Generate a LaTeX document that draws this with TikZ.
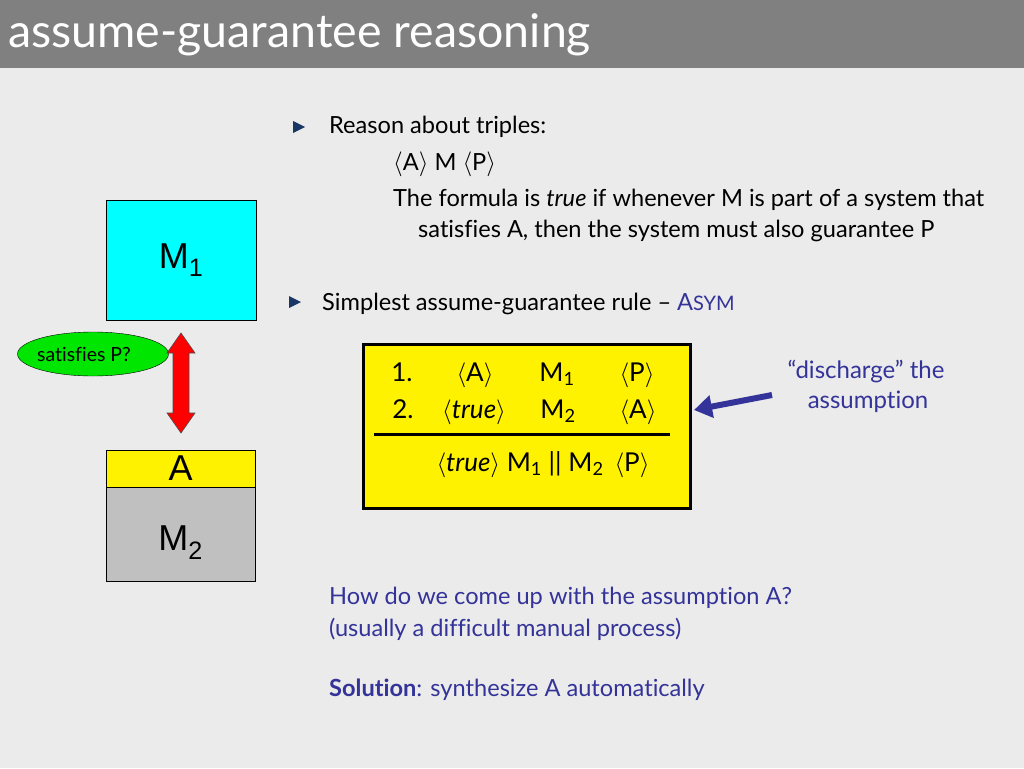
\documentclass[tikz,border=0pt]{standalone}
\usepackage{fontspec}
\setmainfont{Lato}[Ligatures=NoCommon]
\newfontfamily\arialf{Liberation Sans}
\usetikzlibrary{arrows.meta,shapes.geometric}
\definecolor{bg}{RGB}{235,235,235}
\definecolor{titlebar}{RGB}{128,128,128}
\definecolor{navy}{RGB}{51,51,153}
\definecolor{bullet}{RGB}{25,55,100}
\definecolor{cyanbox}{RGB}{0,255,255}
\definecolor{graybox}{RGB}{192,192,192}
\definecolor{greenell}{RGB}{0,230,0}
\begin{document}
\begin{tikzpicture}[x=1pt,y=-1pt,
  txt/.style={anchor=base west,inner sep=0pt,font=\fontsize{23.6}{28}\selectfont},
  bluetxt/.style={txt,text=navy},
  rulet/.style={anchor=base,inner sep=0pt,font=\fontsize{26}{30}\selectfont},
  bigsans/.style={font=\arialf\fontsize{36}{40}\selectfont},
  bul/.style={fill=bullet}
]
\useasboundingbox (0,0) rectangle (1024,768);
\fill[bg] (0,0) rectangle (1024,768);
\fill[titlebar] (0,0) rectangle (1024,68);
\node[anchor=base west,inner sep=0pt,text=white,font=\fontsize{46.5}{50}\selectfont] (title) at (8,48) {assume-guarantee reasoning};

% bullets
\fill[bul] (293,121) -- (305,127) -- (293,133) -- cycle;
\fill[bul] (289,296) -- (301,302) -- (289,308) -- cycle;

\node[txt] (t1) at (329,133) {Reason about triples:};
\node[txt] (t2) at (393,170) {$\langle$A$\rangle$ M $\langle$P$\rangle$};
\node[txt] (t3) at (393,206) {The formula is \textit{true} if whenever M is part of a system that};
\node[txt] (t4) at (418,237) {satisfies A, then the system must also guarantee P};
\node[txt] (t5) at (322,310) {Simplest assume-guarantee rule -- \textcolor{navy}{A{\fontsize{20}{24}\selectfont SYM}}};

% rule box
\node[draw=black,line width=3pt,fill=yellow,minimum width=327,minimum height=164,inner sep=0pt,anchor=north west] (rule) at (362,343) {};
\node[rulet] (r1a) at (402,381) {1.};
\node[rulet] (r1b) at (475,381) {$\langle$A$\rangle$};
\node[rulet] (r1c) at (557,381) {M\textsubscript{1}};
\node[rulet] (r1d) at (637,381) {$\langle$P$\rangle$};
\node[rulet] (r2a) at (403,418) {2.};
\node[rulet] (r2b) at (474,418) {$\langle$\textit{true}$\rangle$};
\node[rulet] (r2c) at (558,418) {M\textsubscript{2}};
\node[rulet] (r2d) at (638,418) {$\langle$A$\rangle$};
\coordinate (l1) at (374,434);
\coordinate (l2) at (670,434);
\draw[line width=3pt] (l1) -- (l2);
\node[rulet] (concl) at (543,471) {$\langle$\textit{true}$\rangle$ M\textsubscript{1} || M\textsubscript{2}\, $\langle$P$\rangle$};

% discharge
\node[anchor=base,inner sep=0pt,text=navy,font=\fontsize{24}{28}\selectfont] (d1) at (866,378) {``discharge'' the};
\node[anchor=base,inner sep=0pt,text=navy,font=\fontsize{24}{28}\selectfont] (d2) at (868,408) {assumption};
\coordinate (astart) at (772,395);
\coordinate (aend) at (694,410);
\draw[navy,line width=6pt,-{Triangle[length=18pt,width=22pt]}] (astart) -- (aend);

% left diagram
\node[draw=black,fill=cyanbox,minimum width=150,minimum height=120,inner sep=0pt,anchor=north west] (m1) at (106,200) {};
\node[bigsans] (m1t) at (m1.center) {M\textsubscript{1}};
\node[draw=black,fill=yellow,minimum width=149,minimum height=37,inner sep=0pt,anchor=north west] (abox) at (106,450) {};
\node[bigsans,yshift=1pt] (at) at (abox.center) {A};
\node[draw=black,fill=graybox,minimum width=149,minimum height=94,inner sep=0pt,anchor=north west] (m2) at (106,487) {};
\node[bigsans,yshift=-8pt] (m2t) at (m2.center) {M\textsubscript{2}};

\node[draw=black,fill=greenell,ellipse,minimum width=151,minimum height=44,inner sep=0pt] (sat) at (93,354) {};
\node[inner sep=0pt,font=\fontsize{19.5}{22}\selectfont] (satt) at (84,354) {satisfies P?};

\fill[red,draw=black!70,line width=0.6pt] (181,333) -- (195,353) -- (189,353) -- (189,413) -- (195,413) -- (181,433) -- (167,413) -- (173,413) -- (173,353) -- (167,353) -- cycle;

% bottom text
\node[bluetxt] (q1) at (329,604) {How do we come up with the assumption A?};
\node[bluetxt] (q2) at (329,636) {(usually a difficult manual process)};
\node[bluetxt] (q3) at (329,696) {\textbf{Solution}: synthesize A automatically};
\end{tikzpicture}
\end{document}
